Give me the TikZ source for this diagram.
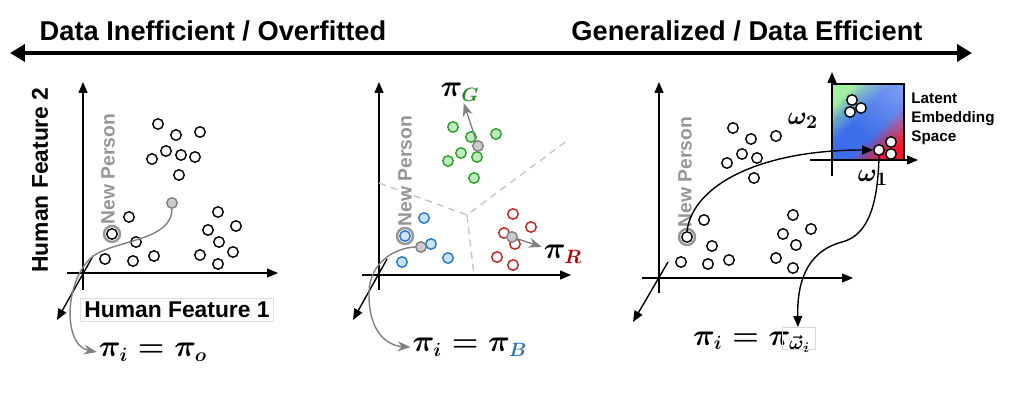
\documentclass[tikz,border=0pt]{standalone}
\usepackage{amsmath, amssymb}
\usepackage{fontspec}
\setsansfont{Liberation Sans}
\usetikzlibrary{arrows.meta, positioning, calc, fadings}
\definecolor{polgreen}{RGB}{34,139,34}
\definecolor{polblue}{RGB}{46,117,182}
\definecolor{polred}{RGB}{192,0,0}
\definecolor{ptgreen}{RGB}{40,160,40}
\definecolor{ptgreenfill}{RGB}{190,235,190}
\definecolor{ptblue}{RGB}{30,120,210}
\definecolor{ptbluefill}{RGB}{205,225,245}
\definecolor{ptred}{RGB}{200,30,30}
\definecolor{latgreen}{RGB}{160,240,160}
\definecolor{latblue}{RGB}{60,110,235}
\definecolor{latred}{RGB}{245,20,40}
\definecolor{npgray}{RGB}{150,150,150}
\tikzfading[name=softdot, inner color=transparent!0, outer color=transparent!100]
\pgfdeclareverticalshading{latent}{100bp}{color(0bp)=(latred); color(25bp)=(latred);
  color(35bp)=(latred!45!latblue); color(42bp)=(latblue); color(57bp)=(latblue);
  color(67bp)=(latgreen!45!latblue); color(75bp)=(latgreen); color(100bp)=(latgreen)}

\begin{document}
\begin{tikzpicture}[x=0.02cm, y=-0.02cm,
  pt/.style={circle, draw, thick, fill=white, minimum size=0.21cm, inner sep=0pt},
  gpt/.style={pt, draw=ptgreen, fill=ptgreenfill},
  bpt/.style={pt, draw=ptblue, fill=ptbluefill},
  rpt/.style={pt, draw=ptred},
  centroid/.style={pt, draw=gray, fill=gray!40},
  ring/.style={draw=npgray, line width=1.4pt},
  axis/.style={thick, -{Triangle[length=2.2mm, width=1.8mm]}},
  sep/.style={draw=gray!45, thick, dash pattern=on 4pt off 3pt},
  title/.style={font=\sffamily\bfseries\fontsize{15.5}{18}\selectfont},
  feat/.style={font=\sffamily\bfseries\fontsize{13}{16}\selectfont},
  newlbl/.style={font=\sffamily\bfseries\fontsize{11}{12}\selectfont, text=npgray,
                 rotate=90, anchor=west, inner sep=0pt},
  pilbl/.style={font=\fontsize{16}{19}\selectfont, inner sep=1pt},
  omlbl/.style={font=\fontsize{15}{18}\selectfont, inner sep=1pt},
  link/.style={draw=gray, thick, -{Stealth[length=2.6mm, width=2mm]}},
  blink/.style={thick, -{Triangle[length=2.2mm, width=1.8mm]}}
]
\useasboundingbox (0,0) rectangle (1018,394);

%--- Top scale ---
\coordinate (farL) at (10,53);
\coordinate (farR) at (972,53);
\draw[line width=2.6pt, {Triangle[length=3mm, width=3.4mm]}-{Triangle[length=3mm, width=3.4mm]}] (farL) -- (farR);
\node[title] (ineff) at (213,31) {Data Inefficient / Overfitted};
\node[title] (eff) at (747,31) {Generalized / Data Efficient};

%--- Panel 1: one policy ---
\coordinate (y1a) at (83,290);  \coordinate (y1b) at (83,82);
\coordinate (x1a) at (67,273);  \coordinate (x1b) at (278,273);
\coordinate (z1a) at (93,256);  \coordinate (z1b) at (57,320);
\draw[axis] (y1a) -- (y1b);
\draw[axis] (x1a) -- (x1b);
\draw[axis] (z1a) -- (z1b);
\node[feat, rotate=90] (feat2) at (40,180) {Human Feature 2};
\node[feat, draw=gray!25, inner sep=2pt] (feat1) at (177,310) {Human Feature 1};

\foreach \x/\y [count=\i] in {158/124, 176/135, 200/132, 152/159, 166/151, 181/155,
    195/157, 179/175, 129/217, 136/242, 105/259, 133/261, 154/256, 218/212,
    208/230, 236/226, 219/242, 200/255, 233/252, 218/264}
  \node[pt] (a\i) at (\x,\y) {};
\node[centroid] (c1) at (172,203) {};
\node[pt] (np1) at (112,234) {};
\draw[ring] (np1.center) circle (0.16cm);
\node[newlbl] (nl1) at (108,225) {New Person};

\node[pilbl] (pi1) at (153,352) {$\boldsymbol{\pi_i = \pi_o}$};
\draw[link] (c1.south) .. controls (172,238) and (125,240) .. (100,252)
            .. controls (65,268) and (60,345) .. (pi1.west);

%--- Panel 2: one policy per cluster ---
\coordinate (y2a) at (379,290);  \coordinate (y2b) at (379,82);
\coordinate (x2a) at (362,275);  \coordinate (x2b) at (571,275);
\coordinate (z2a) at (387,259);  \coordinate (z2b) at (353,320);
\draw[axis] (y2a) -- (y2b);
\draw[axis] (x2a) -- (x2b);
\draw[axis] (z2a) -- (z2b);

\coordinate (vtx) at (467,215);
\coordinate (d1) at (379,183);
\coordinate (d2) at (568,140);
\coordinate (d3) at (474,275);
\draw[sep] (d1) -- (vtx) -- (d2);
\draw[sep] (vtx) -- (d3);

\foreach \x/\y [count=\i] in {453/127, 471/137, 496/134, 461/153, 477/157, 448/161, 474/178}
  \node[gpt] (g\i) at (\x,\y) {};
\foreach \x/\y [count=\i] in {424/218, 431/244, 448/258, 402/262}
  \node[bpt] (b\i) at (\x,\y) {};
\foreach \x/\y [count=\i] in {513/214, 531/227, 504/233, 515/244, 497/257, 513/265}
  \node[rpt] (r\i) at (\x,\y) {};

\node[centroid] (cG) at (478,146) {};
\node[centroid] (cB) at (421,247) {};
\node[centroid] (cR) at (512,237) {};
\node[bpt] (np2) at (405,236) {};
\draw[ring] (np2.center) circle (0.16cm);
\node[newlbl] (nl2) at (405,227) {New Person};

\node[pilbl] (piG) at (460,92) {$\boldsymbol{\pi_{\color{polgreen}G}}$};
\node[pilbl] (piR) at (563,254) {$\boldsymbol{\pi_{\color{polred}R}}$};
\node[pilbl] (pi2) at (470,347) {$\boldsymbol{\pi_i = \pi_{\color{polblue}B}}$};
\draw[link] (cG) -- (piG);
\draw[link] (cR) -- (piR);
\draw[link] (cB.west) .. controls (395,248) and (370,262) .. (369,292)
            .. controls (368,335) and (390,346) .. (pi2.west);

%--- Panel 3: latent embedding ---
\coordinate (y3a) at (659,293);  \coordinate (y3b) at (659,82);
\coordinate (x3a) at (642,278);  \coordinate (x3b) at (853,278);
\coordinate (z3a) at (668,262);  \coordinate (z3b) at (633,322);
\draw[axis] (y3a) -- (y3b);
\draw[axis] (x3a) -- (x3b);
\draw[axis] (z3a) -- (z3b);

\foreach \x/\y [count=\i] in {733/128, 751/139, 776/136, 727/163, 742/154, 757/158,
    754/178, 704/220, 712/246, 681/262, 708/264, 729/260, 793/215, 783/234,
    811/229, 796/245, 776/258, 793/268}
  \node[pt] (p\i) at (\x,\y) {};
\node[pt] (np3) at (687,237) {};
\draw[ring] (np3.center) circle (0.16cm);
\node[newlbl] (nl3) at (685,228) {New Person};

% latent square
\coordinate (latSW) at (832,160);
\coordinate (latNE) at (904,84);
\begin{scope}
  \clip (latSW) rectangle (latNE);
  \shade[shading=latent, shading angle=45] (latSW) rectangle (latNE);
  \fill[white, opacity=0.35, path fading=softdot] (904,84) circle (1.3cm);
\end{scope}
\draw[thick] (latSW) rectangle (latNE);
\coordinate (ly1) at (832,176);  \coordinate (ly2) at (832,72);
\coordinate (lx1) at (810,160);  \coordinate (lx2) at (918,160);
\draw[axis] (ly1) -- (ly2);
\draw[axis] (lx1) -- (lx2);
\node[omlbl] (om2) at (803,121) {$\boldsymbol{\omega_2}$};
\node[omlbl] (om1) at (873,178) {$\boldsymbol{\omega_1}$};
\node[font=\sffamily\bfseries\fontsize{8.7}{10.8}\selectfont, align=left,
      anchor=north west, inner sep=0pt] (latlbl) at (911,93) {Latent\\Embedding\\Space};

\foreach \x/\y [count=\i] in {852/100, 850/112, 861/108, 891/142, 891/154}
  \node[pt] (e\i) at (\x,\y) {};
\node[pt] (e3) at (879,150) {};

\node[pilbl] (pi3) at (752,342) {$\boldsymbol{\pi_i = \pi_{\vec{\omega}_i}}$};
\draw[gray!30] (782,327) rectangle (815,349);
\coordinate (w3) at (798,327);
\draw[blink] (np3.north) .. controls (693,185) and (760,150) .. (e3.west);
\draw[blink] (e3.south) .. controls (878,200) and (870,235) .. (842,242)
             .. controls (805,252) and (797,285) .. (w3);

\end{tikzpicture}
\end{document}
